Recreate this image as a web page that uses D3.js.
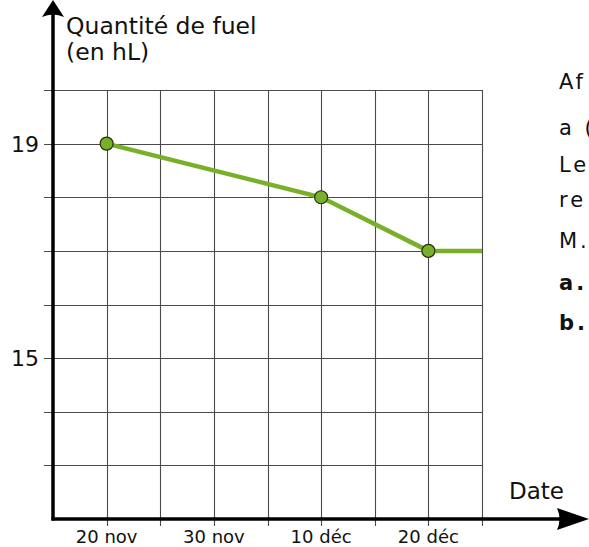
<!DOCTYPE html>
<html>
<head>
<meta charset="utf-8">
<script src="https://cdn.jsdelivr.net/npm/d3@7"></script>
<style>
  html, body { margin: 0; padding: 0; background: #fff; }
  svg { display: block; font-family: "DejaVu Sans", sans-serif; }
</style>
</head>
<body>
<svg id="chart" width="589" height="547"></svg>
<script>
// ---- data ----
const dates = ["2023-11-20", "2023-12-10", "2023-12-20", "2023-12-25"];
const values = [19, 18, 17, 17];
const markerDates = ["2023-11-20", "2023-12-10", "2023-12-20"];
const xTickDates = ["2023-11-20", "2023-11-30", "2023-12-10", "2023-12-20"];
const xTickLabels = ["20 nov", "30 nov", "10 déc", "20 déc"];
const yTickValues = [15, 19];
const yTickLabels = ["15", "19"];
const sideTexts = ["Af", "a (", "Le", "re", "M.", "a.", "b."];
const sideBold = [false, false, false, false, false, true, true];

// ---- layout ----
const parse = d3.utcParse("%Y-%m-%d");
const x0 = 53, x1 = 482, yTop = 90, yBot = 519;
const startDate = parse("2023-11-15"), endDate = parse("2023-12-25");
const x = d3.scaleUtc().domain([startDate, endDate]).range([x0, x1]);
const y = d3.scaleLinear().domain([12, 20]).range([yBot, yTop]);

const svg = d3.select("#chart");

// grid: vertical lines every 5 days (20 nov .. 25 déc)
const gridDates = d3.range(5, 41, 5).map(k => d3.utcDay.offset(startDate, k));
svg.append("g").selectAll("line").data(gridDates).join("line")
  .attr("x1", d => Math.round(x(d)) + 0.5).attr("x2", d => Math.round(x(d)) + 0.5)
  .attr("y1", yTop).attr("y2", yBot + 7)
  .attr("stroke", "#4a4a4a").attr("stroke-width", 1.1);

// grid: horizontal lines
const gridVals = d3.range(13, 21);
svg.append("g").selectAll("line").data(gridVals).join("line")
  .attr("x1", 44).attr("x2", x1 + 0.5)
  .attr("y1", d => Math.round(y(d)) + 0.5).attr("y2", d => Math.round(y(d)) + 0.5)
  .attr("stroke", "#4a4a4a").attr("stroke-width", 1.1);

// axes lines
svg.append("line").attr("x1", x0).attr("x2", x0).attr("y1", yBot + 1.5).attr("y2", 14)
  .attr("stroke", "#000").attr("stroke-width", 3.5);
svg.append("line").attr("x1", x0 - 1.5).attr("x2", 562).attr("y1", yBot).attr("y2", yBot)
  .attr("stroke", "#000").attr("stroke-width", 3.5);

// arrow heads
svg.append("path")
  .attr("d", `M${x0},0 L${x0 + 11},17 Q${x0},12 ${x0 - 11},17 Z`)
  .attr("fill", "#000");
svg.append("path")
  .attr("d", `M589,${yBot} L557,${yBot - 11} Q562,${yBot} 557,${yBot + 11} Z`)
  .attr("fill", "#000");

// axis titles
svg.append("text").attr("x", 66).attr("y", 34).attr("font-size", 23.5).attr("fill", "#111").text("Quantité de fuel");
svg.append("text").attr("x", 66).attr("y", 60).attr("font-size", 23.5).attr("fill", "#111").text("(en hL)");
svg.append("text").attr("x", 509).attr("y", 499).attr("font-size", 23).attr("fill", "#111").text("Date");

// y tick labels
svg.append("g").selectAll("text").data(yTickValues).join("text")
  .attr("x", 39).attr("y", d => y(d) + 8)
  .attr("text-anchor", "end").attr("font-size", 22).attr("fill", "#111")
  .text((d, i) => yTickLabels[i]);

// x tick labels
svg.append("g").selectAll("text").data(xTickDates).join("text")
  .attr("x", d => x(parse(d))).attr("y", 543)
  .attr("text-anchor", "middle").attr("font-size", 18).attr("fill", "#111")
  .text((d, i) => xTickLabels[i]);

// line
const pts = dates.map((d, i) => ({ date: parse(d), value: values[i] }));
svg.append("path").datum(pts)
  .attr("d", d3.line().x(d => x(d.date)).y(d => y(d.value)))
  .attr("fill", "none").attr("stroke", "#78b02a").attr("stroke-width", 4.5);

// markers
const mks = pts.filter(p => markerDates.some(m => +parse(m) === +p.date));
svg.append("g").selectAll("circle").data(mks).join("circle")
  .attr("cx", d => x(d.date)).attr("cy", d => y(d.value)).attr("r", 6.5)
  .attr("fill", "#7aaf2a").attr("stroke", "#24300c").attr("stroke-width", 1.2);

// side text (cut off at the right edge, as in the reference)
const sideY = [89, 135, 172, 207, 248, 290, 330];
svg.append("g").selectAll("text").data(sideTexts).join("text")
  .attr("x", 559).attr("y", (d, i) => sideY[i])
  .attr("font-size", 21).attr("letter-spacing", 3)
  .attr("font-weight", (d, i) => sideBold[i] ? "bold" : "normal")
  .attr("fill", "#111")
  .text(d => d);
</script>
</body>
</html>
